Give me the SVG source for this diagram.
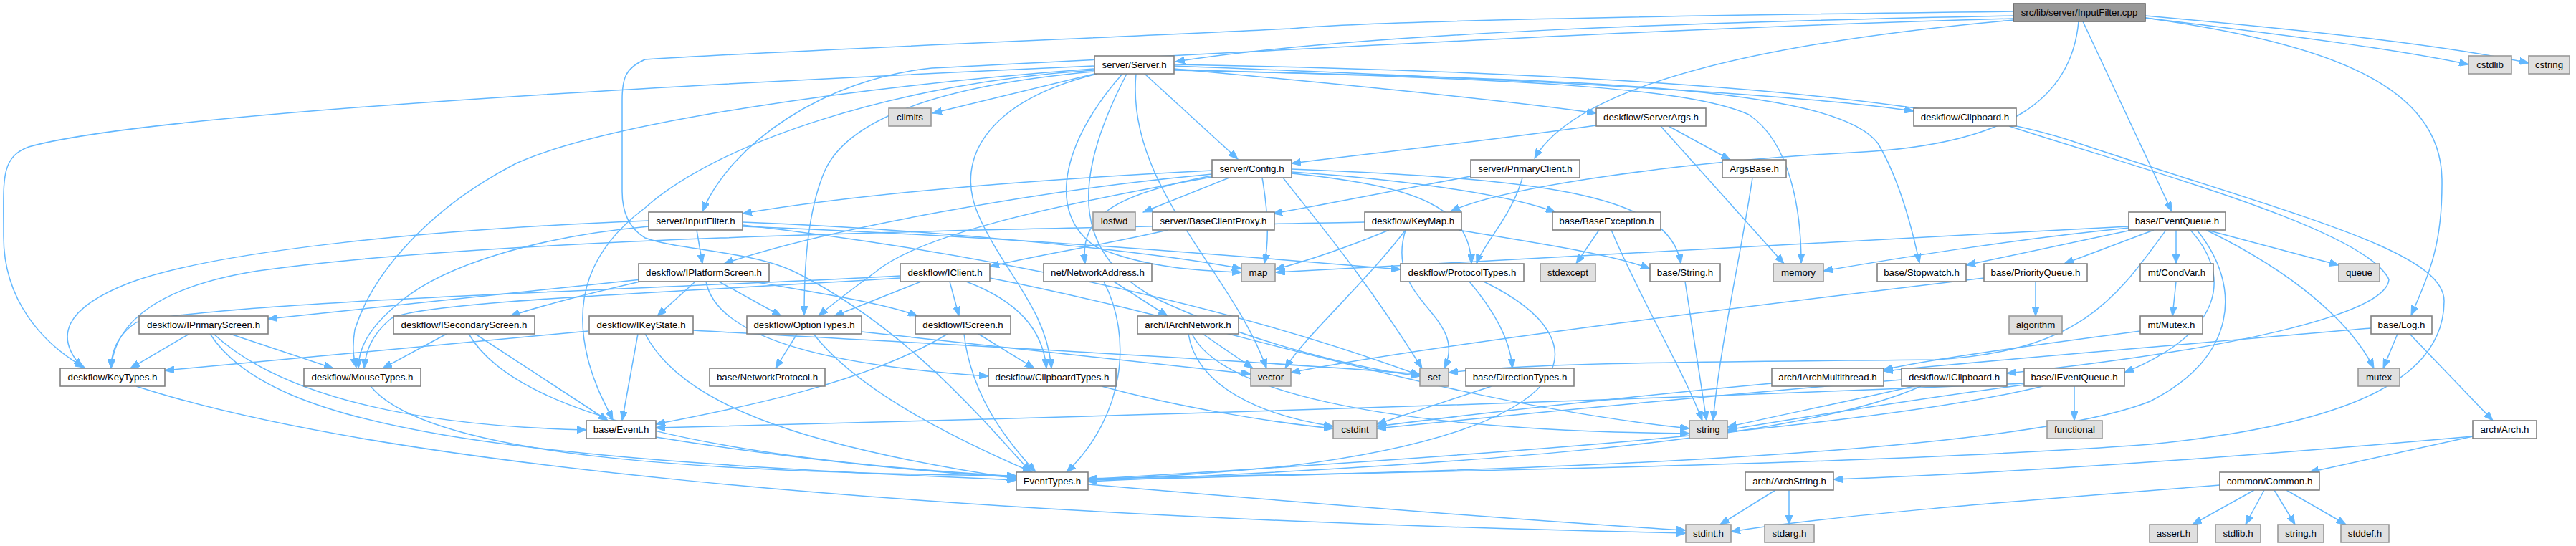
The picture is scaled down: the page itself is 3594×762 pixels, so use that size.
<svg xmlns="http://www.w3.org/2000/svg" width="3594" height="762" viewBox="0 0 3594 762">
<style>
.e{fill:none;stroke:#63b8ff;stroke-width:1.5;marker-end:url(#a)}
.n rect{fill:#ffffff;stroke:#808080;stroke-width:1.6}
.s rect{fill:#e0e0e0;stroke:#999999;stroke-width:1.6}
.r rect{fill:#999999;stroke:#666666;stroke-width:1.6}
text{font-family:"Liberation Sans",Arial,sans-serif;font-size:13.3px;text-anchor:middle;fill:#000}
</style>
<defs>
<marker id="a" markerWidth="14" markerHeight="10" refX="13" refY="5" orient="auto" markerUnits="userSpaceOnUse"><path d="M0,0 L13,5 L0,10 z" fill="#63b8ff" stroke="#63b8ff"/></marker>
</defs>
<rect width="3594" height="762" fill="#ffffff"/>
<g id="edges">
<path class="e" d="M2809,22 C2400,30 1900,45 1640,86"/>
<path class="e" d="M2809,26 C2300,40 1800,70 1300,95 C1150,110 1020,200 980,295"/>
<path class="e" d="M2809,16 C2300,22 1900,30 1800,40 C1500,55 1100,70 900,83 C872,95 868,110 868,140 L868,267 C868,300 880,320 900,332 C950,350 1050,350 1110,380 C1250,450 1350,560 1438,659"/>
<path class="e" d="M2809,28 C2450,60 2200,120 2141,221"/>
<path class="e" d="M2900,30 C2890,140 2800,200 2600,212 C2350,225 2100,260 2024,295"/>
<path class="e" d="M2906,30 L3030,295"/>
<path class="e" d="M2993,25 C3250,60 3405,120 3407,250 C3408,340 3390,380 3364,440"/>
<path class="e" d="M2993,25 C3200,50 3350,70 3444,90"/>
<path class="e" d="M2993,22 C3250,45 3420,65 3528,88"/>
<path class="e" d="M1527,103 L1301,158"/>
<path class="e" d="M1597,103 L1727,222"/>
<path class="e" d="M1638,96 C1900,120 2100,140 2227,158"/>
<path class="e" d="M1638,92 C2100,110 2500,130 2670,155"/>
<path class="e" d="M1527,92 C900,120 200,160 40,205 C0,220 5,250 5,330 C5,420 60,480 118,513"/>
<path class="e" d="M1527,96 C1200,120 850,170 720,228 C600,290 520,380 495,460 C490,490 495,505 497,513"/>
<path class="e" d="M1527,100 C1300,120 1180,170 1150,240 C1125,300 1122,380 1122,440"/>
<path class="e" d="M1527,98 C1250,115 1000,200 900,290 C820,350 800,420 820,500 C830,540 845,565 855,586"/>
<path class="e" d="M1638,98 C2200,110 2560,120 2620,200 C2650,250 2668,320 2678,367"/>
<path class="e" d="M1638,97 C2100,110 2350,120 2440,160 C2500,200 2513,300 2513,367"/>
<path class="e" d="M1566,103 C1480,200 1460,300 1530,345 C1600,375 1680,378 1732,380"/>
<path class="e" d="M1572,103 C1490,260 1500,360 1620,420 C1750,480 1900,515 1981,525"/>
<path class="e" d="M1585,103 C1570,260 1720,380 1767,514"/>
<path class="e" d="M1531,103 C1380,140 1330,220 1365,300 C1400,380 1460,430 1467,514"/>
<path class="e" d="M1638,90 C2200,100 2700,130 2900,200 C3200,300 3410,350 3410,420 C3410,520 3300,590 3000,620 C2600,650 1900,660 1518,668"/>
<path class="e" d="M1691,238 C1450,250 1200,270 1036,298"/>
<path class="e" d="M1691,243 C1450,265 1150,320 1010,368"/>
<path class="e" d="M1715,248 L1595,296"/>
<path class="e" d="M1692,245 C1560,270 1505,300 1514,368"/>
<path class="e" d="M1761,248 C1770,300 1770,340 1764,368"/>
<path class="e" d="M1802,240 C1950,250 2100,270 2170,296"/>
<path class="e" d="M1802,236 C2150,250 2330,270 2345,368"/>
<path class="e" d="M1802,242 C1980,260 2050,290 2053,368"/>
<path class="e" d="M1691,247 C1450,290 1280,330 1221,380 C1180,410 1160,425 1142,441"/>
<path class="e" d="M1790,248 C1830,300 1900,380 1984,514"/>
<path class="e" d="M2227,175 C2050,200 1900,215 1802,228"/>
<path class="e" d="M2328,176 L2414,223"/>
<path class="e" d="M2317,176 L2489,368"/>
<path class="e" d="M2803,176 C3000,240 3300,320 3333,390 C3330,440 3100,490 2800,521"/>
<path class="e" d="M2052,246 C1950,265 1850,285 1776,298"/>
<path class="e" d="M2124,248 C2110,300 2070,340 2060,368"/>
<path class="e" d="M1629,321 C1550,340 1450,355 1381,372"/>
<path class="e" d="M2445,248 C2430,350 2400,480 2390,587"/>
<path class="e" d="M972,321 L980,368"/>
<path class="e" d="M1036,310 C1300,320 1600,350 1732,375"/>
<path class="e" d="M1036,314 C1350,350 1700,420 1981,524"/>
<path class="e" d="M1036,316 C1400,330 1700,355 1954,376"/>
<path class="e" d="M905,308 C600,320 300,350 180,395 C90,430 75,470 115,513"/>
<path class="e" d="M1904,310 C1400,320 700,330 360,378 C220,400 160,450 155,514"/>
<path class="e" d="M905,316 C750,330 620,370 560,420 C510,460 500,490 500,514"/>
<path class="e" d="M970,393 L917,441"/>
<path class="e" d="M1003,393 L1090,441"/>
<path class="e" d="M1050,393 C1150,410 1240,425 1280,441"/>
<path class="e" d="M985,393 C1000,470 1150,510 1379,525"/>
<path class="e" d="M895,390 L374,445"/>
<path class="e" d="M893,393 C820,410 760,425 712,441"/>
<path class="e" d="M1256,385 C1000,400 300,420 190,450 C160,470 155,495 155,514"/>
<path class="e" d="M1256,388 C1000,405 580,420 545,445 C515,470 510,495 508,514"/>
<path class="e" d="M1325,393 L1338,441"/>
<path class="e" d="M1348,393 C1420,420 1455,460 1460,514"/>
<path class="e" d="M1285,393 L1164,441"/>
<path class="e" d="M1381,388 C1700,450 2000,560 2357,598"/>
<path class="e" d="M1554,393 L1629,441"/>
<path class="e" d="M1540,393 C1580,470 1570,580 1488,659"/>
<path class="e" d="M1678,466 L1748,514"/>
<path class="e" d="M1663,466 C1700,540 1900,600 2357,605"/>
<path class="e" d="M1658,466 C1670,540 1760,580 1860,595"/>
<path class="e" d="M1322,466 C1200,540 1000,575 915,592"/>
<path class="e" d="M1345,466 C1355,550 1400,610 1445,659"/>
<path class="e" d="M1365,466 L1443,514"/>
<path class="e" d="M1112,466 L1082,514"/>
<path class="e" d="M1135,466 C1200,550 1350,620 1440,659"/>
<path class="e" d="M1202,463 C1450,490 1650,510 1745,522"/>
<path class="e" d="M821,462 L230,517"/>
<path class="e" d="M890,466 L868,587"/>
<path class="e" d="M900,466 C950,560 1100,620 1418,668"/>
<path class="e" d="M967,461 C1300,480 1700,500 1981,522"/>
<path class="e" d="M264,466 L182,514"/>
<path class="e" d="M321,466 L465,514"/>
<path class="e" d="M298,466 C400,560 600,595 818,600"/>
<path class="e" d="M293,466 C380,600 700,640 1418,670"/>
<path class="e" d="M623,466 L534,514"/>
<path class="e" d="M663,466 L848,587"/>
<path class="e" d="M654,466 C720,580 1000,640 1418,665"/>
<path class="e" d="M190,539 C500,640 1200,720 2352,744"/>
<path class="e" d="M517,539 C600,640 1000,660 1418,664"/>
<path class="e" d="M1537,539 C1650,570 1780,590 1860,598"/>
<path class="e" d="M915,610 C1100,640 1300,660 1418,666"/>
<path class="e" d="M1518,676 C1800,700 2100,725 2352,740"/>
<path class="e" d="M2050,393 C2090,440 2108,480 2110,514"/>
<path class="e" d="M2070,393 C2250,480 2200,600 1800,650 C1650,665 1560,668 1518,670"/>
<path class="e" d="M2081,539 L1921,592"/>
<path class="e" d="M2472,535 C2200,560 2000,585 1921,595"/>
<path class="e" d="M2670,539 C2580,560 2480,580 2410,596"/>
<path class="e" d="M2680,539 C2500,620 2000,650 1518,672"/>
<path class="e" d="M2653,530 C2300,560 2000,590 1921,598"/>
<path class="e" d="M2894,539 L2894,587"/>
<path class="e" d="M2824,535 C2000,570 1200,590 915,597"/>
<path class="e" d="M2824,537 C2650,560 2500,585 2410,600"/>
<path class="e" d="M2850,539 C2600,600 2000,640 1518,669"/>
<path class="e" d="M2970,316 C2500,340 2000,370 1780,380"/>
<path class="e" d="M2970,318 C2800,335 2650,360 2544,378"/>
<path class="e" d="M2974,321 L2743,370"/>
<path class="e" d="M3005,321 L2880,368"/>
<path class="e" d="M3036,321 L3036,368"/>
<path class="e" d="M3056,321 C3110,380 3110,460 2964,520"/>
<path class="e" d="M3065,321 C3130,400 3120,500 3000,560 C2800,640 2000,660 1518,670"/>
<path class="e" d="M3078,321 C3200,380 3280,450 3312,514"/>
<path class="e" d="M3079,321 L3263,370"/>
<path class="e" d="M3022,321 C2950,420 2900,490 2700,502 C2400,505 2150,505 2021,520"/>
<path class="e" d="M2840,393 L2840,441"/>
<path class="e" d="M2768,388 C2500,420 2000,480 1801,520"/>
<path class="e" d="M3036,393 L3031,441"/>
<path class="e" d="M2986,462 C2850,480 2700,500 2628,516"/>
<path class="e" d="M3345,466 L3325,514"/>
<path class="e" d="M3362,466 L3478,587"/>
<path class="e" d="M3308,458 C3000,485 2750,505 2628,518"/>
<path class="e" d="M3450,609 L3222,659"/>
<path class="e" d="M3450,609 C3100,640 2800,660 2558,669"/>
<path class="e" d="M3145,684 L3059,732"/>
<path class="e" d="M3159,684 L3133,732"/>
<path class="e" d="M3173,684 L3202,732"/>
<path class="e" d="M3190,684 L3273,732"/>
<path class="e" d="M3097,677 C2800,700 2550,720 2415,742"/>
<path class="e" d="M2477,684 L2400,732"/>
<path class="e" d="M2496,684 L2496,732"/>
<path class="e" d="M2231,321 L2199,368"/>
<path class="e" d="M2248,321 C2290,420 2350,520 2375,587"/>
<path class="e" d="M2351,393 L2381,587"/>
<path class="e" d="M1938,321 C1880,345 1820,365 1779,376"/>
<path class="e" d="M1961,321 C1900,400 1820,470 1793,514"/>
<path class="e" d="M1961,321 C1930,420 2050,440 2015,514"/>
<path class="e" d="M2035,321 C2150,340 2250,355 2302,375"/>
</g>
<g id="n_root" class="r"><rect x="2809" y="5" width="184" height="25"/><text x="2901" y="22">src/lib/server/InputFilter.cpp</text></g>
<g id="n_server" class="n"><rect x="1527" y="78" width="111" height="25"/><text x="1582.5" y="95">server/Server.h</text></g>
<g id="n_cstdlib" class="s"><rect x="3444" y="78" width="60" height="25"/><text x="3474" y="95">cstdlib</text></g>
<g id="n_cstring" class="s"><rect x="3528" y="78" width="57" height="25"/><text x="3556.5" y="95">cstring</text></g>
<g id="n_climits" class="s"><rect x="1240" y="151" width="59" height="25"/><text x="1269.5" y="168">climits</text></g>
<g id="n_serverargs" class="n"><rect x="2227" y="151" width="153" height="25"/><text x="2303.5" y="168">deskflow/ServerArgs.h</text></g>
<g id="n_clipboard" class="n"><rect x="2670" y="151" width="143" height="25"/><text x="2741.5" y="168">deskflow/Clipboard.h</text></g>
<g id="n_config" class="n"><rect x="1691" y="223" width="111" height="25"/><text x="1746.5" y="240">server/Config.h</text></g>
<g id="n_primary" class="n"><rect x="2052" y="223" width="152" height="25"/><text x="2128" y="240">server/PrimaryClient.h</text></g>
<g id="n_argsbase" class="n"><rect x="2403" y="223" width="89" height="25"/><text x="2447.5" y="240">ArgsBase.h</text></g>
<g id="n_inputfilterh" class="n"><rect x="905" y="296" width="131" height="25"/><text x="970.5" y="313">server/InputFilter.h</text></g>
<g id="n_iosfwd" class="s"><rect x="1525" y="296" width="59" height="25"/><text x="1554.5" y="313">iosfwd</text></g>
<g id="n_bcp" class="n"><rect x="1608" y="296" width="170" height="25"/><text x="1693" y="313">server/BaseClientProxy.h</text></g>
<g id="n_keymap" class="n"><rect x="1904" y="296" width="135" height="25"/><text x="1971.5" y="313">deskflow/KeyMap.h</text></g>
<g id="n_baseexc" class="n"><rect x="2166" y="296" width="151" height="25"/><text x="2241.5" y="313">base/BaseException.h</text></g>
<g id="n_eventqueue" class="n"><rect x="2970" y="296" width="135" height="25"/><text x="3037.5" y="313">base/EventQueue.h</text></g>
<g id="n_ipsc" class="n"><rect x="891" y="368" width="182" height="25"/><text x="982" y="385">deskflow/IPlatformScreen.h</text></g>
<g id="n_iclient" class="n"><rect x="1256" y="368" width="125" height="25"/><text x="1318.5" y="385">deskflow/IClient.h</text></g>
<g id="n_netaddr" class="n"><rect x="1456" y="368" width="151" height="25"/><text x="1531.5" y="385">net/NetworkAddress.h</text></g>
<g id="n_map" class="s"><rect x="1732" y="368" width="47" height="25"/><text x="1755.5" y="385">map</text></g>
<g id="n_proto" class="n"><rect x="1954" y="368" width="172" height="25"/><text x="2040" y="385">deskflow/ProtocolTypes.h</text></g>
<g id="n_stdexcept" class="s"><rect x="2149" y="368" width="77" height="25"/><text x="2187.5" y="385">stdexcept</text></g>
<g id="n_string_h" class="n"><rect x="2302" y="368" width="98" height="25"/><text x="2351" y="385">base/String.h</text></g>
<g id="n_memory" class="s"><rect x="2474" y="368" width="70" height="25"/><text x="2509" y="385">memory</text></g>
<g id="n_stopwatch" class="n"><rect x="2619" y="368" width="124" height="25"/><text x="2681" y="385">base/Stopwatch.h</text></g>
<g id="n_pq" class="n"><rect x="2768" y="368" width="144" height="25"/><text x="2840" y="385">base/PriorityQueue.h</text></g>
<g id="n_condvar" class="n"><rect x="2986" y="368" width="102" height="25"/><text x="3037" y="385">mt/CondVar.h</text></g>
<g id="n_queue" class="s"><rect x="3263" y="368" width="57" height="25"/><text x="3291.5" y="385">queue</text></g>
<g id="n_iprim" class="n"><rect x="194" y="441" width="180" height="25"/><text x="284" y="458">deskflow/IPrimaryScreen.h</text></g>
<g id="n_isec" class="n"><rect x="549" y="441" width="197" height="25"/><text x="647.5" y="458">deskflow/ISecondaryScreen.h</text></g>
<g id="n_ikey" class="n"><rect x="822" y="441" width="145" height="25"/><text x="894.5" y="458">deskflow/IKeyState.h</text></g>
<g id="n_opt" class="n"><rect x="1042" y="441" width="160" height="25"/><text x="1122" y="458">deskflow/OptionTypes.h</text></g>
<g id="n_iscreen" class="n"><rect x="1277" y="441" width="133" height="25"/><text x="1343.5" y="458">deskflow/IScreen.h</text></g>
<g id="n_iarchnet" class="n"><rect x="1587" y="441" width="141" height="25"/><text x="1657.5" y="458">arch/IArchNetwork.h</text></g>
<g id="n_algorithm" class="s"><rect x="2803" y="441" width="74" height="25"/><text x="2840" y="458">algorithm</text></g>
<g id="n_mutexh" class="n"><rect x="2986" y="441" width="87" height="25"/><text x="3029.5" y="458">mt/Mutex.h</text></g>
<g id="n_log" class="n"><rect x="3308" y="441" width="85" height="25"/><text x="3350.5" y="458">base/Log.h</text></g>
<g id="n_keytypes" class="n"><rect x="84" y="514" width="146" height="25"/><text x="157" y="531">deskflow/KeyTypes.h</text></g>
<g id="n_mousetypes" class="n"><rect x="424" y="514" width="163" height="25"/><text x="505.5" y="531">deskflow/MouseTypes.h</text></g>
<g id="n_netproto" class="n"><rect x="990" y="514" width="161" height="25"/><text x="1070.5" y="531">base/NetworkProtocol.h</text></g>
<g id="n_cliptypes" class="n"><rect x="1379" y="514" width="178" height="25"/><text x="1468" y="531">deskflow/ClipboardTypes.h</text></g>
<g id="n_vector" class="s"><rect x="1745" y="514" width="56" height="25"/><text x="1773" y="531">vector</text></g>
<g id="n_set" class="s"><rect x="1981" y="514" width="40" height="25"/><text x="2001" y="531">set</text></g>
<g id="n_dirtypes" class="n"><rect x="2045" y="514" width="151" height="25"/><text x="2120.5" y="531">base/DirectionTypes.h</text></g>
<g id="n_iam" class="n"><rect x="2472" y="514" width="156" height="25"/><text x="2550" y="531">arch/IArchMultithread.h</text></g>
<g id="n_iclipboard" class="n"><rect x="2653" y="514" width="147" height="25"/><text x="2726.5" y="531">deskflow/IClipboard.h</text></g>
<g id="n_ieq" class="n"><rect x="2824" y="514" width="140" height="25"/><text x="2894" y="531">base/IEventQueue.h</text></g>
<g id="n_mutex" class="s"><rect x="3290" y="514" width="58" height="25"/><text x="3319" y="531">mutex</text></g>
<g id="n_event" class="n"><rect x="818" y="587" width="97" height="25"/><text x="866.5" y="604">base/Event.h</text></g>
<g id="n_cstdint" class="s"><rect x="1860" y="587" width="61" height="25"/><text x="1890.5" y="604">cstdint</text></g>
<g id="n_string" class="s"><rect x="2357" y="587" width="53" height="25"/><text x="2383.5" y="604">string</text></g>
<g id="n_functional" class="s"><rect x="2856" y="587" width="77" height="25"/><text x="2894.5" y="604">functional</text></g>
<g id="n_arch" class="n"><rect x="3450" y="587" width="89" height="25"/><text x="3494.5" y="604">arch/Arch.h</text></g>
<g id="n_eventtypes" class="n"><rect x="1418" y="659" width="100" height="25"/><text x="1468" y="676">EventTypes.h</text></g>
<g id="n_archstring" class="n"><rect x="2435" y="659" width="123" height="25"/><text x="2496.5" y="676">arch/ArchString.h</text></g>
<g id="n_common" class="n"><rect x="3097" y="659" width="139" height="25"/><text x="3166.5" y="676">common/Common.h</text></g>
<g id="n_stdint" class="s"><rect x="2352" y="732" width="63" height="25"/><text x="2383.5" y="749">stdint.h</text></g>
<g id="n_stdarg" class="s"><rect x="2462" y="732" width="69" height="25"/><text x="2496.5" y="749">stdarg.h</text></g>
<g id="n_assert" class="s"><rect x="2999" y="732" width="67" height="25"/><text x="3032.5" y="749">assert.h</text></g>
<g id="n_stdlib" class="s"><rect x="3091" y="732" width="63" height="25"/><text x="3122.5" y="749">stdlib.h</text></g>
<g id="n_stringh" class="s"><rect x="3178" y="732" width="64" height="25"/><text x="3210" y="749">string.h</text></g>
<g id="n_stddef" class="s"><rect x="3266" y="732" width="67" height="25"/><text x="3299.5" y="749">stddef.h</text></g>
</svg>
